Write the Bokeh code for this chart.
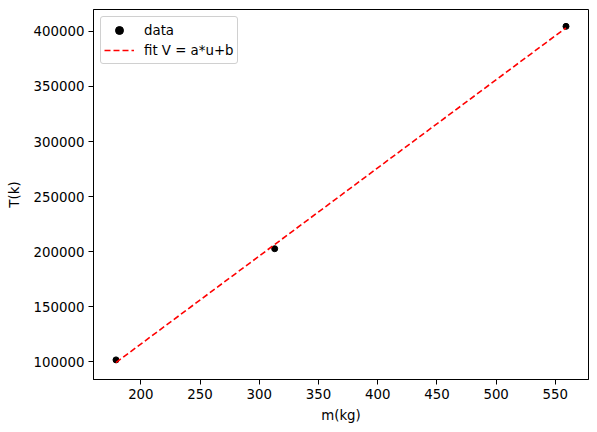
from bokeh.plotting import figure
from bokeh.models import Range1d, FixedTicker, NumeralTickFormatter, Legend, LegendItem
from bokeh.embed import file_html
from bokeh.resources import INLINE

# data
mass = [179, 313, 559]
temp = [101800, 202700, 404500]
fit_x = [179, 313, 559]
fit_y = [99400, 206500, 403200]
x_ticks = [200, 250, 300, 350, 400, 450, 500, 550]
y_ticks = [100000, 150000, 200000, 250000, 300000, 350000, 400000]

FONT = "DejaVu Sans"

p = figure(width=597, height=432, output_backend="svg", toolbar_location=None,
           x_range=Range1d(160.0, 578.0), y_range=Range1d(84000, 419800),
           min_border_left=93, min_border_right=9, min_border_top=9, min_border_bottom=53)

p.xgrid.visible = False
p.ygrid.visible = False
p.outline_line_color = "black"
p.outline_line_width = 1
p.background_fill_color = "white"
p.border_fill_color = "white"

for ax in (p.xaxis[0], p.yaxis[0]):
    ax.axis_line_color = "black"
    ax.major_tick_line_color = "black"
    ax.major_tick_out = 5
    ax.major_tick_in = 0
    ax.minor_tick_line_color = None
    ax.major_label_text_font = FONT
    ax.major_label_text_font_size = "10pt"
    ax.major_label_text_color = "black"
    ax.major_label_standoff = 4
    ax.axis_label_text_font = FONT
    ax.axis_label_text_font_size = "10pt"
    ax.axis_label_text_font_style = "normal"
    ax.axis_label_text_color = "black"

p.xaxis.ticker = FixedTicker(ticks=x_ticks)
p.yaxis.ticker = FixedTicker(ticks=y_ticks)
p.yaxis.formatter = NumeralTickFormatter(format="0")
p.xaxis.axis_label = "m(kg)"
p.yaxis.axis_label = "T(k)"
p.xaxis.axis_label_standoff = 6
p.yaxis.axis_label_standoff = 9

pts = p.scatter(mass, temp, size=6, color="black")
ln = p.line(fit_x, fit_y, line_color="#ff0000", line_width=1.6, line_dash="6 3")

legend = Legend(items=[LegendItem(label="data", renderers=[pts]),
                       LegendItem(label="fit V = a*u+b", renderers=[ln])],
                location="top_left")
legend.label_text_font = FONT
legend.label_text_font_size = "10pt"
legend.label_text_color = "black"
legend.border_line_color = "#d0d0d0"
legend.border_line_alpha = 1
legend.border_radius = 3
legend.background_fill_alpha = 0.8
legend.margin = 7
legend.padding = 3
legend.spacing = 0
legend.glyph_width = 30
legend.label_standoff = 10
legend.label_height = 20
legend.glyph_height = 20
p.add_layout(legend)

open("out.html", "w").write(file_html(p, INLINE))
